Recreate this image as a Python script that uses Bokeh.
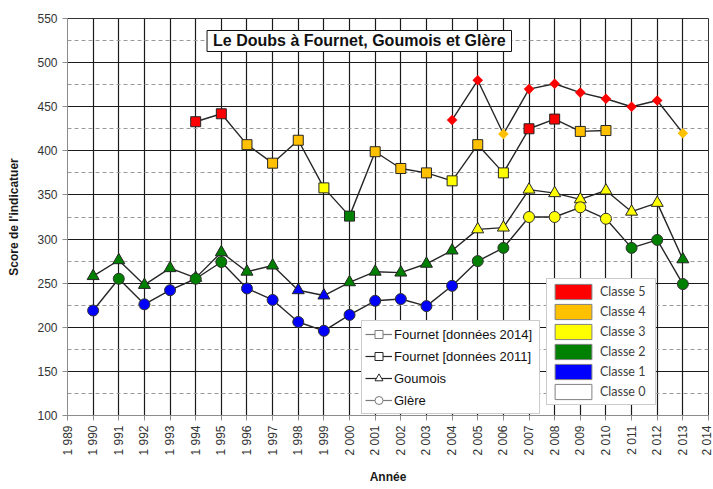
import math
from bokeh.plotting import figure
from bokeh.models import (Range1d, FixedTicker, SingleIntervalTicker, Legend,
                          LegendItem, Label, ColumnDataSource)
from bokeh.embed import file_html
from bokeh.resources import INLINE

# ---------------- data ----------------
tick_years = list(range(1989, 2015))
tick_labels = {y: f"{y // 1000} {y % 1000:03d}" for y in tick_years}

years_fournet14 = list(range(2004, 2014))
fournet14 = [435, 480, 419, 470, 476, 466, 459, 450, 457, 420]
fournet14_class = [5, 5, 4, 5, 5, 5, 5, 5, 5, 4]

years_fournet11 = list(range(1994, 2011))
fournet11 = [433, 442, 407, 386, 412, 358, 326, 399, 380, 375, 366, 407, 375,
             425, 436, 422, 423]
fournet11_class = [5, 5, 4, 4, 4, 3, 2, 4, 4, 4, 3, 4, 3, 5, 5, 4, 4]

years_goumois = list(range(1990, 2014))
goumois = [258, 276, 248, 267, 256, 285, 263, 270, 242, 236, 251, 263, 262,
           272, 287, 311, 313, 356, 352, 345, 355, 331, 341, 277]
goumois_class = [2, 2, 2, 2, 2, 2, 2, 2, 1, 1, 2, 2, 2, 2, 2, 3, 3, 3, 3, 3,
                 3, 3, 3, 2]

years_glere = list(range(1990, 2014))
glere = [219, 255, 226, 242, 255, 274, 244, 231, 206, 196, 214, 230, 232, 224,
         247, 275, 290, 325, 325, 336, 323, 290, 299, 249]
glere_class = [1, 2, 1, 1, 2, 2, 1, 1, 1, 1, 1, 1, 1, 1, 1, 2, 2, 3, 3, 3, 3,
               2, 2, 2]

class_ids = [5, 4, 3, 2, 1, 0]
class_names = ["Classe 5", "Classe 4", "Classe 3", "Classe 2", "Classe 1", "Classe 0"]
class_colors = {5: "#FF0000", 4: "#FFC000", 3: "#FFFF00", 2: "#008000",
                1: "#0000FF", 0: "#FFFFFF"}

series_names = ["Fournet [données 2014]", "Fournet [données 2011]", "Goumois", "Glère"]
title_text = "Le Doubs à Fournet, Goumois et Glère"

# ---------------- figure ----------------
p = figure(width=713, height=489, x_range=Range1d(1989, 2014),
           y_range=Range1d(100, 550), output_backend="svg",
           toolbar_location=None, min_border_left=67, min_border_right=5,
           min_border_top=18, min_border_bottom=74,
           background_fill_color="white", border_fill_color="white")
p.outline_line_color = "#333333"
p.outline_line_width = 1

p.xaxis.ticker = FixedTicker(ticks=tick_years)
p.xaxis.major_label_overrides = tick_labels
p.xaxis.major_label_orientation = math.pi / 2
p.xaxis.axis_label = "Année"
p.yaxis.ticker = SingleIntervalTicker(interval=50, num_minor_ticks=2)
p.yaxis.axis_label = "Score de l'indicatuer"

for ax in (p.xaxis[0], p.yaxis[0]):
    ax.axis_line_color = "#8c8c8c"
    ax.major_tick_line_color = "#8c8c8c"
    ax.minor_tick_line_color = None
    ax.major_tick_out = 5
    ax.major_tick_in = 0
    ax.major_label_standoff = 5
    ax.major_label_text_font = "Liberation Sans"
    ax.major_label_text_font_size = "12px"
    ax.major_label_text_color = "#333333"
    ax.axis_label_text_font = "Liberation Sans"
    ax.axis_label_text_font_style = "bold"
    ax.axis_label_text_font_size = "12px"
    ax.axis_label_text_color = "#1a1a1a"
p.xaxis.axis_label_standoff = 11
p.yaxis.axis_label_standoff = 13

p.xgrid.grid_line_color = "#1a1a1a"
p.xgrid.grid_line_width = 1.2
p.ygrid.grid_line_color = "#1a1a1a"
p.ygrid.grid_line_width = 1.2
p.ygrid.minor_grid_line_color = "#9a9a9a"
p.ygrid.minor_grid_line_dash = "4 3"
p.ygrid.minor_grid_line_width = 1


def draw_series(xs, ys, cls, marker, size, angle=0.0, outline="#262626"):
    src = ColumnDataSource(dict(x=xs, y=ys, c=[class_colors[k] for k in cls]))
    p.line("x", "y", source=src, line_color="#262626", line_width=1.4)
    p.scatter("x", "y", source=src, marker=marker, size=size, angle=angle,
              fill_color="c", line_color=outline, line_width=1)


draw_series(years_fournet14, fournet14, fournet14_class, "square", 7.5,
            angle=math.pi / 4, outline=None)
draw_series(years_fournet11, fournet11, fournet11_class, "square", 10)
draw_series(years_goumois, goumois, goumois_class, "triangle", 12)
draw_series(years_glere, glere, glere_class, "circle", 11, outline="#333333")

# ---------------- legends ----------------
nan = float("nan")
leg_specs = [("square", math.pi / 4, "#7a7a7a"),
             ("square", 0.0, "#262626"),
             ("triangle", 0.0, "#262626"),
             ("circle", 0.0, "#7a7a7a")]
series_items = []
for name, (mk, ang, lc) in zip(series_names, leg_specs):
    lr = p.line([nan, nan], [nan, nan], line_color=lc, line_width=1.2)
    sr = p.scatter([nan], [nan], marker=mk, angle=ang, fill_color="white",
                   line_color=lc, line_width=1)
    series_items.append(LegendItem(label=name, renderers=[lr, sr]))

leg1 = Legend(items=series_items, location=(294, 1), orientation="vertical",
              padding=3, spacing=2, glyph_width=27, glyph_height=20,
              label_height=20, label_width=142, label_standoff=2, margin=0,
              label_text_font="Liberation Sans", label_text_font_size="13px",
              label_text_color="#111111", border_line_color="#999999",
              background_fill_color="white", background_fill_alpha=1.0)
p.add_layout(leg1)

class_items = []
for cid, cname in zip(class_ids, class_names):
    qr = p.quad(left=[nan], right=[nan], top=[nan], bottom=[nan],
                fill_color=class_colors[cid], line_color="#808080", line_width=1)
    class_items.append(LegendItem(label=cname, renderers=[qr]))

leg2 = Legend(items=class_items, location=(479, 10), orientation="vertical",
              padding=3, spacing=1, glyph_width=46, glyph_height=19,
              label_height=19, label_width=52, label_standoff=4, margin=0,
              label_text_font="Lato", label_text_font_size="12.5px",
              label_text_color="#404040", border_line_color="#999999",
              background_fill_color="white", background_fill_alpha=1.0)
p.add_layout(leg2)

title = Label(x=2000.38, y=524.5, text=title_text, text_align="center",
              text_baseline="middle", text_font="Liberation Sans",
              text_font_style="bold", text_font_size="16px",
              text_color="#111111", background_fill_color="white",
              border_line_color="#111111", border_line_width=1,
              padding=(6, 2))
p.add_layout(title)

open("out.html", "w").write(file_html(p, INLINE))
